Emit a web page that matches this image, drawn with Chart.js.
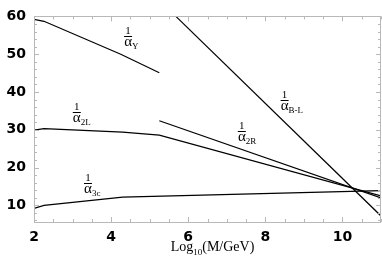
<!DOCTYPE html>
<html><head><meta charset="utf-8">
<script src="https://cdn.jsdelivr.net/npm/chart.js@4/dist/chart.umd.min.js"></script>
<style>html,body{margin:0;padding:0;background:#fff}#wrap{width:382px;height:272px}</style>
</head><body><div id="wrap"><canvas id="c" width="382" height="272"></canvas></div>
<script>
const xTicks = [2, 4, 6, 8, 10];
const yTicks = [10, 20, 30, 40, 50, 60];
const xY  = [2, 2.26, 4.25, 5.25];       const vY  = [59.2, 58.7, 50.0, 45.1];
const x2L = [2, 2.26, 4.3, 5.25, 11];    const v2L = [29.9, 30.3, 29.4, 28.6, 12.5];
const x2R = [5.25, 11];                  const v2R = [32.4, 12.0];
const x3c = [2, 2.26, 4.3, 11];          const v3c = [9.2, 10.0, 12.2, 13.9];
const xBL = [5.68, 11];                  const vBL = [60, 7.2];
const labelSubs = ['Y', '2L', '3c', '2R', 'B-L'];
const labelX = [4.44, 3.11, 3.40, 7.39, 8.50];
const labelY = [54.9, 34.7, 15.9, 29.6, 37.8];

function pts(xs, ys){ return xs.map((x,i)=>({x:x, y:ys[i]})); }
function ds(xs, ys){ return {data: pts(xs, ys), borderColor:'#000', borderWidth:1.2, pointRadius:0, fill:false, tension:0}; }

const framePlugin = {
  id:'frame',
  afterDraw(chart){
    const ctx = chart.ctx, a = chart.chartArea, xs = chart.scales.x, ys = chart.scales.y;
    ctx.save();
    ctx.strokeStyle = '#b8b8b8'; ctx.lineWidth = 1;
    ctx.strokeRect(Math.round(a.left)+0.5, Math.round(a.top)+0.5, Math.round(a.right-a.left)-1, Math.round(a.bottom-a.top));
    ctx.beginPath();
    for (let v = 2; v <= 11.001; v += 0.5){
      const p = Math.round(xs.getPixelForValue(v))+0.5;
      const L = (Math.abs(v - Math.round(v/2)*2) < 1e-6) ? 5 : 3;
      ctx.moveTo(p, a.bottom); ctx.lineTo(p, a.bottom - L);
      ctx.moveTo(p, a.top); ctx.lineTo(p, a.top + L);
    }
    for (let v = 6; v <= 60.001; v += 2){
      const p = Math.round(ys.getPixelForValue(v))+0.5;
      const L = (v % 10 === 0) ? 5 : 3;
      ctx.moveTo(a.left, p); ctx.lineTo(a.left + L, p);
      ctx.moveTo(a.right, p); ctx.lineTo(a.right - L, p);
    }
    ctx.stroke();
    // curve labels
    ctx.fillStyle = '#000'; ctx.strokeStyle = '#000';
    for (let i = 0; i < labelSubs.length; i++){
      const px = xs.getPixelForValue(labelX[i]), py = ys.getPixelForValue(labelY[i]);
      ctx.textAlign = 'center'; ctx.textBaseline = 'alphabetic';
      ctx.font = '11px "Liberation Serif", serif';
      ctx.fillText('1', px, py - 2);
      ctx.beginPath(); ctx.lineWidth = 1;
      ctx.moveTo(px - 4, Math.round(py)+0.5); ctx.lineTo(px + 4, Math.round(py)+0.5); ctx.stroke();
      ctx.font = '15px "Liberation Serif", serif';
      ctx.fillText('α', px, py + 10);
      ctx.textAlign = 'left';
      ctx.font = '9px "Liberation Serif", serif';
      ctx.fillText(labelSubs[i], px + 4, py + 13);
    }
    // axis title
    ctx.textAlign = 'left';
    const t1 = 'Log', t2 = '(M/GeV)';
    ctx.font = '9px "Liberation Serif", serif';
    const w10 = ctx.measureText('10').width;
    ctx.font = '14px "Liberation Serif", serif';
    const w1 = ctx.measureText(t1).width, w2 = ctx.measureText(t2).width;
    const total = w1 + w10 + w2;
    const cx = (a.left + a.right)/2 + 5;
    let x0 = cx - total/2, by = 251;
    ctx.fillText(t1, x0, by);
    ctx.font = '9px "Liberation Serif", serif';
    ctx.fillText('10', x0 + w1, by + 4);
    ctx.font = '14px "Liberation Serif", serif';
    ctx.fillText(t2, x0 + w1 + w10, by);
    ctx.restore();
  }
};

new Chart(document.getElementById('c'), {
  type:'line',
  data:{ datasets:[ds(xY,vY), ds(x2L,v2L), ds(x2R,v2R), ds(x3c,v3c), ds(xBL,vBL)] },
  options:{
    responsive:false, animation:false, devicePixelRatio:1,
    layout:{padding:{top:9, right:1, left:0, bottom:0}},
    plugins:{legend:{display:false}, tooltip:{enabled:false}},
    scales:{
      x:{type:'linear', min:2, max:11, grid:{display:false, drawTicks:false}, border:{display:false},
         afterBuildTicks(s){ s.ticks = xTicks.map(v=>({value:v})); },
         afterFit(s){ s.height = 50; },
         ticks:{padding:7, color:'#000', font:{family:'"DejaVu Sans"', weight:'bold', size:14}}},
      y:{type:'linear', min:5.6, max:60, grid:{display:false, drawTicks:false}, border:{display:false},
         afterBuildTicks(s){ s.ticks = yTicks.map(v=>({value:v})); },
         afterFit(s){ s.width = 34; },
         ticks:{padding:8, color:'#000', font:{family:'"DejaVu Sans"', weight:'bold', size:14}}}
    }
  },
  plugins:[framePlugin]
});
</script></body></html>
